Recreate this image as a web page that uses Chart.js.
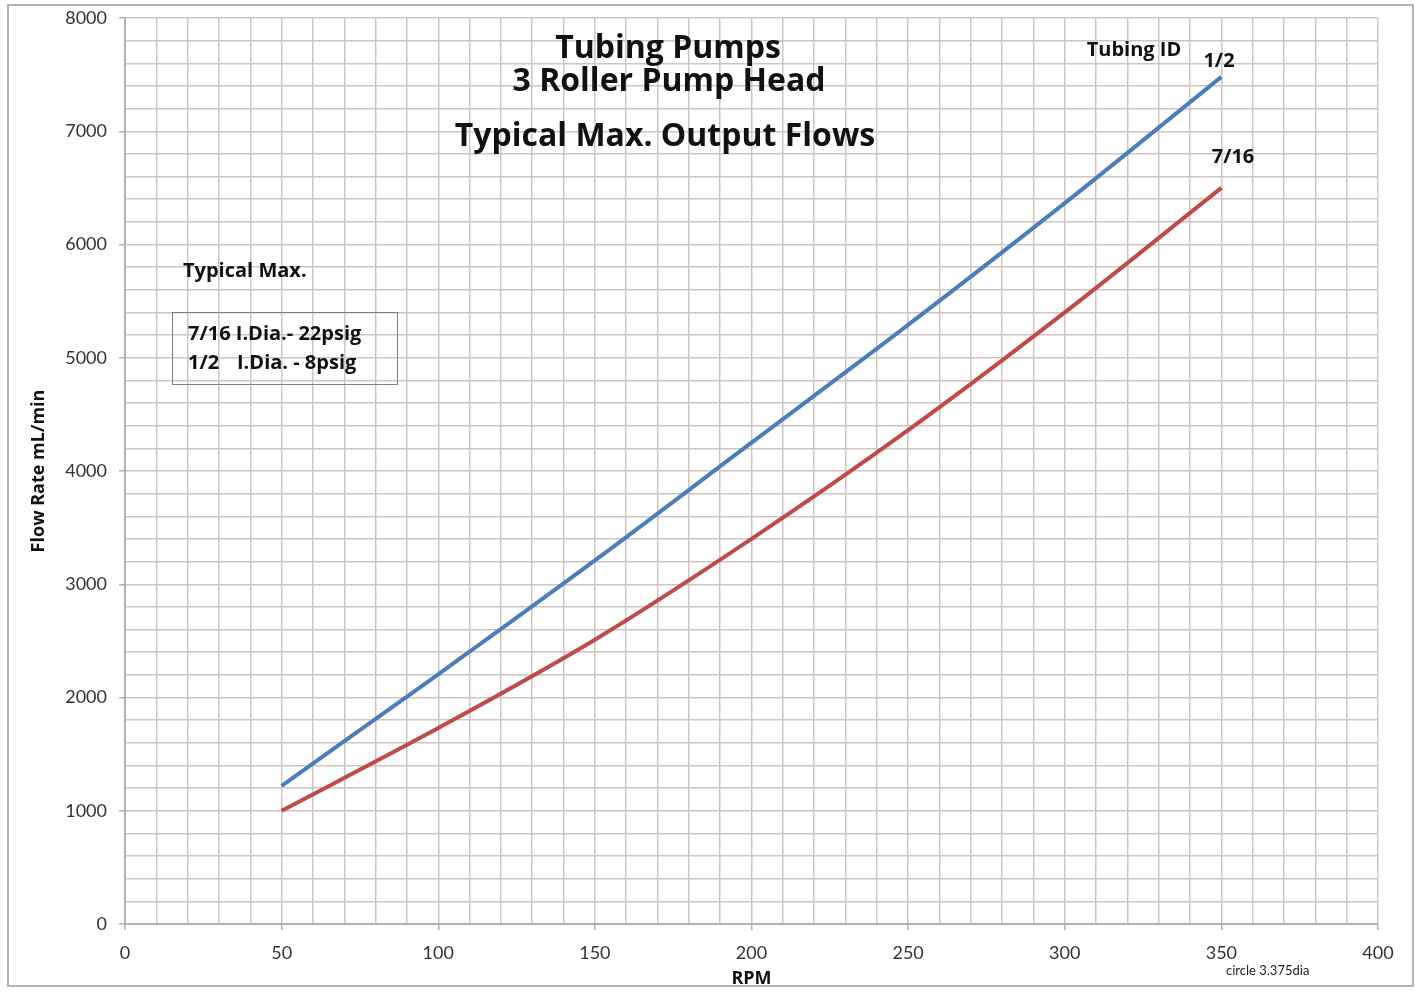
<!DOCTYPE html>
<html>
<head>
<meta charset="utf-8">
<title>Tubing Pumps - 3 Roller Pump Head</title>
<script src="https://cdn.jsdelivr.net/npm/chart.js@4.4.1/dist/chart.umd.min.js"></script>
<style>
  html, body { margin: 0; padding: 0; background: #fff; }
  #wrap { width: 1422px; height: 993px; position: relative; }
</style>
</head>
<body>
<div id="wrap"><canvas id="grafico" width="1422" height="993"></canvas></div>
<script>
// ---- data ----
const rpm = [50, 100, 150, 200, 250, 300, 350];
const flowHalf = [1220, 2205, 3210, 4250, 5290, 6365, 7480];        // 1/2 tubing
const flowSevenSixteenths = [1000, 1730, 2510, 3400, 4360, 5400, 6500]; // 7/16 tubing

const xTickLabels = [0, 50, 100, 150, 200, 250, 300, 350, 400];
const yTickLabels = [0, 1000, 2000, 3000, 4000, 5000, 6000, 7000, 8000];

// colores
const azul = "#4a7ebb";
const rojo = "#be4b48";
const rejilla = "#cfc4c2";
const FONT = "Lato, 'Open Sans', sans-serif";
const BOLD = "'Open Sans', Lato, sans-serif";

// texto y marco extra
const extras = {
  id: "extras",
  afterDraw(chart) {
    const ctx = chart.ctx;
    ctx.save();
    // marco exterior
    ctx.strokeStyle = "#b4b4b4";
    ctx.lineWidth = 2;
    ctx.strokeRect(8, 5, 1405, 981);

    ctx.fillStyle = "#111";
    ctx.textAlign = "center";
    ctx.textBaseline = "middle";
    ctx.font = "bold 32px " + BOLD;
    ctx.fillText("Tubing Pumps", 668, 49);
    ctx.fillText("3 Roller Pump Head", 669, 82);
    ctx.fillText("Typical Max. Output Flows", 665, 137);

    ctx.font = "bold 20px " + BOLD;
    ctx.fillText("Tubing ID", 1134, 50);
    ctx.fillText("1/2", 1219, 61);
    ctx.fillText("7/16", 1233, 157);

    ctx.textAlign = "left";
    ctx.fillText("Typical Max.", 183, 271);
    ctx.fillText("7/16 I.Dia.- 22psig", 188, 334);
    ctx.fillText("1/2", 188, 363);
    ctx.fillText("I.Dia. - 8psig", 237, 363);

    // caja de presiones
    ctx.strokeStyle = "#808080";
    ctx.lineWidth = 1;
    ctx.strokeRect(172.5, 312.5, 225, 72);

    ctx.font = "13px " + FONT;
    ctx.fillStyle = "#222";
    ctx.fillText("circle 3.375dia", 1226, 971);
    ctx.restore();
  }
};

const ctx = document.getElementById("grafico").getContext("2d");

const grafico = new Chart(ctx, {
  type: "line",
  data: {
    datasets: [
      {
        label: "1/2",
        data: rpm.map((r, i) => ({ x: r, y: flowHalf[i] })),
        borderColor: azul,
        borderWidth: 4,
        pointRadius: 0,
        cubicInterpolationMode: "monotone",
        fill: false
      },
      {
        label: "7/16",
        data: rpm.map((r, i) => ({ x: r, y: flowSevenSixteenths[i] })),
        borderColor: rojo,
        borderWidth: 4,
        pointRadius: 0,
        cubicInterpolationMode: "monotone",
        fill: false
      }
    ]
  },
  options: {
    responsive: false,
    animation: false,
    layout: { padding: { left: 10, right: 44, top: 18, bottom: 3 } },
    plugins: {
      legend: { display: false },
      title: { display: false },
      tooltip: { enabled: false }
    },
    scales: {
      x: {
        type: "linear",
        min: 0,
        max: 400,
        afterFit: s => { s.height = 66; s.paddingLeft = 0; s.paddingRight = 0; },
        border: { color: "#b9adad", width: 2 },
        grid: {
          color: rejilla,
          lineWidth: 1.5,
          tickLength: 6,
          tickColor: c => xTickLabels.includes(c.tick && c.tick.value) ? "#b9adad" : "rgba(0,0,0,0)"
        },
        ticks: {
          stepSize: 10,
          autoSkip: false,
          maxRotation: 0,
          padding: 12,
          color: "#333",
          font: { family: FONT, size: 18 },
          callback: v => xTickLabels.includes(v) ? String(v) : ""
        },
        title: {
          display: true,
          text: "RPM",
          color: "#111",
          font: { family: BOLD, size: 18, weight: "bold" },
          padding: { top: 0, bottom: 0 }
        }
      },
      y: {
        type: "linear",
        min: 0,
        max: 8000,
        afterFit: s => { s.width = 115; s.paddingTop = 0; s.paddingBottom = 0; },
        border: { color: "#b9adad", width: 2 },
        grid: {
          color: rejilla,
          lineWidth: 1.5,
          tickLength: 6,
          tickColor: c => yTickLabels.includes(c.tick && c.tick.value) ? "#b9adad" : "rgba(0,0,0,0)"
        },
        ticks: {
          stepSize: 200,
          autoSkip: false,
          padding: 12,
          color: "#333",
          font: { family: FONT, size: 18 },
          callback: v => yTickLabels.includes(v) ? String(v) : ""
        },
        title: {
          display: true,
          text: "Flow Rate mL/min",
          color: "#111",
          font: { family: BOLD, size: 18, weight: "bold" },
          padding: { top: 18, bottom: 0 }
        }
      }
    }
  },
  plugins: [extras]
});
</script>
</body>
</html>
